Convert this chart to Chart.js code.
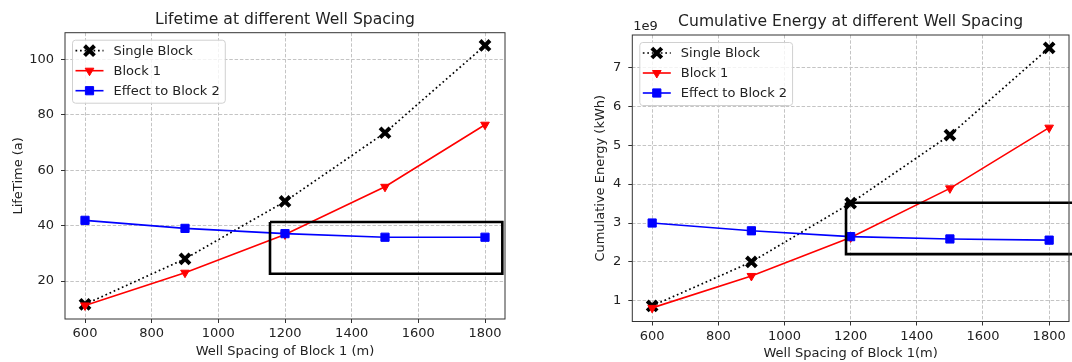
<!DOCTYPE html>
<html>
<head>
<meta charset="utf-8">
<script src="https://cdn.jsdelivr.net/npm/chart.js@4.4.0/dist/chart.umd.min.js"></script>
<style>
  body { margin: 0; background: #fff; width: 1072px; height: 362px; overflow: hidden; position: relative; }
  canvas { position: absolute; top: 0; }
  #lifeChart { left: 0; }
  #energyChart { left: 580px; }
</style>
</head>
<body>
<canvas id="lifeChart" width="530" height="362"></canvas>
<canvas id="energyChart" width="500" height="362"></canvas>
<script>
// well spacing of block 1 (m)
const spacing = [600, 900, 1200, 1500, 1800];
const xTicks = [600, 800, 1000, 1200, 1400, 1600, 1800];

// lifetime (a)
const lifeSingle = [11.6, 28.0, 48.7, 73.5, 105.0];
const lifeBlock1 = [11.2, 23.0, 36.8, 54.0, 76.4];
const lifeBlock2 = [41.9, 39.0, 37.1, 35.8, 35.8];
const lifeTicks = [20, 40, 60, 80, 100];
const lifeBoxX = [1155, 1852, 1852, 1155, 1155];
const lifeBoxY = [41.3, 41.3, 22.6, 22.6, 41.3];

// cumulative energy (kWh)
const energySingle = [0.87e9, 2.0e9, 3.51e9, 5.26e9, 7.50e9];
const energyBlock1 = [0.82e9, 1.64e9, 2.63e9, 3.89e9, 5.45e9];
const energyBlock2 = [3.0e9, 2.8e9, 2.65e9, 2.59e9, 2.56e9];
const energyTicks = [1e9, 2e9, 3e9, 4e9, 5e9, 6e9, 7e9];
const energyBoxX = [1186, 1950, 1950, 1186, 1186];
const energyBoxY = [3.52e9, 3.52e9, 2.2e9, 2.2e9, 3.52e9];

const FONT = "'DejaVu Sans', sans-serif";
const textColor = '#222';
const tickFont = { family: FONT, size: 13 };

const pts = (xs, ys) => xs.map((x, i) => ({ x, y: ys[i] }));

function seriesSets(single, b1, b2, boxX, boxY) {
  return [
    {
      label: 'Single Block', data: pts(spacing, single), order: 3,
      borderColor: '#000', borderWidth: 1.7, borderDash: [1.7, 2.8],
      pointStyle: 'crossRot', pointRadius: 7, pointBorderWidth: 4,
      pointBorderColor: '#000', pointBackgroundColor: '#000'
    },
    {
      label: 'Block 1', data: pts(spacing, b1), order: 2,
      borderColor: '#ff0000', borderWidth: 1.6,
      pointStyle: 'triangle', pointRotation: 180, pointRadius: 5, pointBorderWidth: 1,
      pointBorderColor: '#ff0000', pointBackgroundColor: '#ff0000'
    },
    {
      label: 'Effect to Block 2', data: pts(spacing, b2), order: 1,
      borderColor: '#0000ff', borderWidth: 1.6,
      pointStyle: 'rect', pointRadius: 5.8, pointBorderWidth: 1,
      pointBorderColor: '#0000ff', pointBackgroundColor: '#0000ff'
    },
    {
      // highlight box
      data: pts(boxX, boxY), order: 0, clip: false,
      borderColor: '#000', borderWidth: 2.6, pointRadius: 0, fill: false
    }
  ];
}

// frame, title, offset text and in-axes legend
const axesDecor = {
  id: 'axesDecor',
  afterDraw(chart, args, opts) {
    const { ctx, chartArea: a } = chart;
    ctx.save();
    ctx.setLineDash([]);
    ctx.strokeStyle = '#333';
    ctx.lineWidth = 1;
    ctx.strokeRect(a.left, a.top, a.right - a.left, a.bottom - a.top);

    ctx.fillStyle = textColor;
    ctx.font = `15.6px ${FONT}`;
    ctx.textAlign = 'center';
    ctx.textBaseline = 'alphabetic';
    ctx.fillText(opts.title, (a.left + a.right) / 2, a.top - 9);

    if (opts.offsetText) {
      ctx.font = `13px ${FONT}`;
      ctx.textAlign = 'left';
      ctx.fillText(opts.offsetText, a.left + 1, a.top - 5);
    }

    // legend
    ctx.font = `13px ${FONT}`;
    const items = chart.data.datasets.map((ds, i) => ({ ds, i })).filter(o => o.ds.label);
    const textW = Math.max(...items.map(o => ctx.measureText(o.ds.label).width));
    const bx = a.left + 7, by = a.top + 7;
    const bw = 41.5 + textW + 5, bh = 63;
    ctx.beginPath();
    ctx.roundRect(bx + 0.5, by + 0.5, bw, bh, 3);
    ctx.fillStyle = 'rgba(255,255,255,0.8)';
    ctx.fill();
    ctx.strokeStyle = '#d0d0d0';
    ctx.stroke();

    items.forEach((o, k) => {
      const y = by + 11 + k * 20;
      ctx.save();
      ctx.strokeStyle = o.ds.borderColor;
      ctx.lineWidth = o.ds.borderWidth;
      ctx.setLineDash(o.ds.borderDash || []);
      ctx.beginPath();
      ctx.moveTo(bx + 3.5, y);
      ctx.lineTo(bx + 31.5, y);
      ctx.stroke();
      ctx.restore();

      const p = chart.getDatasetMeta(o.i).data[0].options;
      ctx.setLineDash([]);
      ctx.fillStyle = p.backgroundColor;
      ctx.strokeStyle = p.borderColor;
      ctx.lineWidth = p.borderWidth;
      Chart.helpers.drawPoint(ctx, p, bx + 17.5, y);

      ctx.fillStyle = textColor;
      ctx.textAlign = 'left';
      ctx.textBaseline = 'middle';
      ctx.fillText(o.ds.label, bx + 41.5, y + 0.5);
    });
    ctx.restore();
  }
};

function makeChart(id, cfg) {
  return new Chart(document.getElementById(id), {
    type: 'line',
    data: { datasets: seriesSets(cfg.single, cfg.b1, cfg.b2, cfg.boxX, cfg.boxY) },
    plugins: [axesDecor],
    options: {
      responsive: false,
      animation: false,
      devicePixelRatio: 1,
      layout: { padding: cfg.padding },
      elements: { line: { tension: 0 } },
      plugins: {
        legend: { display: false },
        tooltip: { enabled: false },
        axesDecor: { title: cfg.title, offsetText: cfg.offsetText }
      },
      scales: {
        x: {
          type: 'linear', min: 540, max: 1860,
          afterBuildTicks: s => { s.ticks = xTicks.map(v => ({ value: v })); },
          afterFit: s => { s.height = cfg.xHeight; },
          grid: { color: '#c4c4c4', lineWidth: 1, tickLength: 4, tickColor: '#333', tickWidth: 1, tickBorderDash: [] },
          border: { display: false, dash: [3.5, 1.8] },
          ticks: { padding: 3, color: textColor, font: tickFont, maxRotation: 0, callback: v => String(v) },
          title: { display: true, text: cfg.xTitle, color: textColor, font: tickFont, padding: { top: 0, bottom: cfg.xTitlePad } }
        },
        y: {
          type: 'linear', min: cfg.yMin, max: cfg.yMax,
          afterBuildTicks: s => { s.ticks = cfg.yTicks.map(v => ({ value: v })); },
          afterFit: s => { s.width = cfg.yWidth; },
          grid: { color: '#c4c4c4', lineWidth: 1, tickLength: 4, tickColor: '#333', tickWidth: 1, tickBorderDash: [] },
          border: { display: false, dash: [3.5, 1.8] },
          ticks: { padding: 7, color: textColor, font: tickFont, callback: cfg.yLabel },
          title: { display: true, text: cfg.yTitle, color: textColor, font: tickFont, padding: { top: cfg.yTitlePad, bottom: 0 } }
        }
      }
    }
  });
}

makeChart('lifeChart', {
  single: lifeSingle, b1: lifeBlock1, b2: lifeBlock2, boxX: lifeBoxX, boxY: lifeBoxY,
  title: 'Lifetime at different Well Spacing',
  xTitle: 'Well Spacing of Block 1 (m)', yTitle: 'LifeTime (a)',
  yMin: 6.3, yMax: 109.6, yTicks: lifeTicks, yLabel: v => String(v),
  padding: { top: 32.7, right: 25, bottom: 0, left: 0 },
  xHeight: 43, yWidth: 65, xTitlePad: 2.5, yTitlePad: 10.5
});

makeChart('energyChart', {
  single: energySingle, b1: energyBlock1, b2: energyBlock2, boxX: energyBoxX, boxY: energyBoxY,
  title: 'Cumulative Energy at different Well Spacing', offsetText: '1e9',
  xTitle: 'Well Spacing of Block 1(m)', yTitle: 'Cumulative Energy (kWh)',
  yMin: 0.47e9, yMax: 7.83e9, yTicks: energyTicks, yLabel: v => String(v / 1e9),
  padding: { top: 35, right: 6.4, bottom: 0, left: 0 },
  xHeight: 40.5, yWidth: 52.3, xTitlePad: 0.2, yTitlePad: 13.2
});
</script>
</body>
</html>
